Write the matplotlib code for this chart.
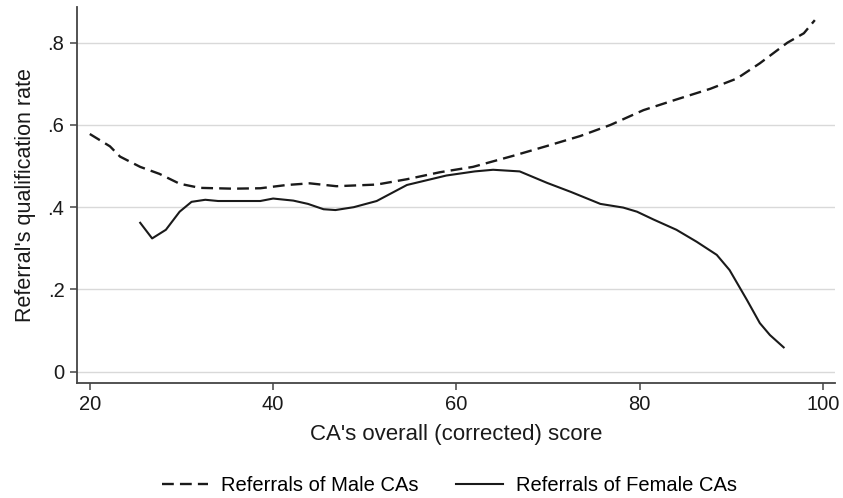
import matplotlib.pyplot as plt

plt.rcParams["font.family"] = ["Liberation Sans", "DejaVu Sans"]

# Local-polynomial fits of referral qualification rate on CA score
male_score = [20.0, 22.2, 23.3, 25.5, 27.6, 29.8, 32.0, 35.6, 38.6, 41.5, 44.0,
              46.9, 51.3, 54.6, 58.2, 61.8, 66.2, 69.9, 73.5, 76.8, 80.4, 84.0,
              87.7, 90.6, 93.1, 96.1, 97.9, 99.1]
male_rate = [0.578, 0.548, 0.523, 0.498, 0.481, 0.457, 0.447, 0.445, 0.446,
             0.454, 0.458, 0.451, 0.455, 0.468, 0.485, 0.498, 0.525, 0.549,
             0.573, 0.600, 0.636, 0.662, 0.688, 0.713, 0.750, 0.800, 0.823,
             0.855]

female_score = [25.5, 26.8, 28.3, 29.8, 31.1, 32.6, 34.0, 38.6, 40.0, 42.2,
                43.8, 45.5, 46.8, 48.8, 51.3, 54.6, 58.9, 62.0, 64.0, 66.9,
                69.9, 72.5, 75.7, 78.2, 79.7, 81.5, 84.0, 86.2, 88.4, 89.8,
                91.7, 93.1, 94.2, 95.7]
female_rate = [0.362, 0.324, 0.345, 0.389, 0.413, 0.418, 0.415, 0.415, 0.421,
               0.416, 0.408, 0.395, 0.393, 0.400, 0.415, 0.454, 0.477, 0.487,
               0.491, 0.487, 0.459, 0.437, 0.408, 0.399, 0.389, 0.370, 0.345,
               0.316, 0.284, 0.247, 0.174, 0.118, 0.089, 0.059]

x_ticks = [20, 40, 60, 80, 100]
y_ticks = [0, 0.2, 0.4, 0.6, 0.8]
y_tick_labels = ["0", ".2", ".4", ".6", ".8"]

fig = plt.figure(figsize=(8.43, 4.98), dpi=100)
ax = fig.add_axes([0.0913, 0.2315, 0.8992, 0.7545])

ax.plot(male_score, male_rate, color="#1a1a1a", linewidth=1.7,
        linestyle=(0, (5, 2.6)), label="Referrals of Male CAs")
ax.plot(female_score, female_rate, color="#1a1a1a", linewidth=1.5,
        label="Referrals of Female CAs")

ax.set_xlim(18.6, 101.3)
ax.set_ylim(-0.027, 0.887)
ax.set_xticks(x_ticks)
ax.set_yticks(y_ticks)
ax.set_yticklabels(y_tick_labels)
ax.yaxis.grid(True, color="#d9d9d9", linewidth=1.0)
ax.set_axisbelow(True)

for side in ("top", "right"):
    ax.spines[side].set_visible(False)
for side in ("left", "bottom"):
    ax.spines[side].set_color("#444444")
    ax.spines[side].set_linewidth(1.3)
ax.tick_params(axis="both", colors="#444444", labelcolor="#1a1a1a",
               length=5, width=1.1, labelsize=14.5, pad=4)

ax.set_xlabel("CA's overall (corrected) score", fontsize=16,
              color="#1a1a1a", labelpad=7)
ax.set_ylabel("Referral's qualification rate", fontsize=15.5,
              color="#1a1a1a", labelpad=8)

fig.legend(loc="lower center", bbox_to_anchor=(0.533, -0.03), ncol=2,
           frameon=False, fontsize=14.5, handlelength=2.3,
           columnspacing=1.85, handletextpad=0.65)

fig.savefig("out.png", dpi=100)
